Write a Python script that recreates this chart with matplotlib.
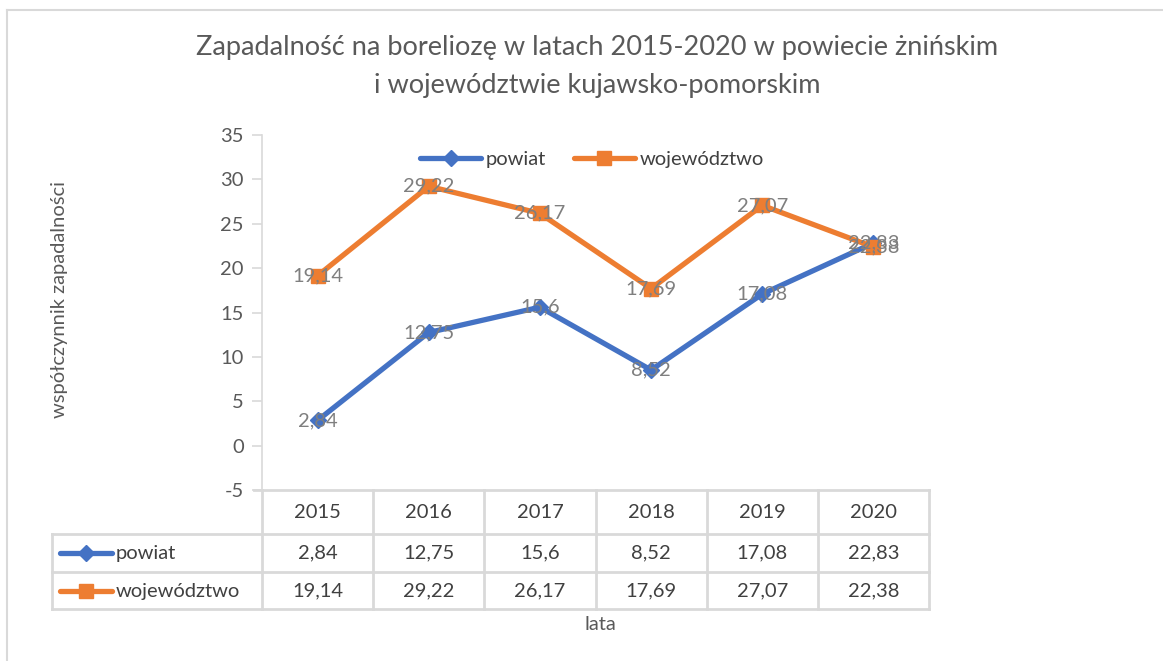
import matplotlib
matplotlib.use("Agg")
import matplotlib.pyplot as plt
import matplotlib.transforms as mtransforms
from matplotlib.lines import Line2D

plt.rcParams['font.family'] = ['Lato', 'DejaVu Sans']
plt.rcParams['axes.unicode_minus'] = False

years = ['2015', '2016', '2017', '2018', '2019', '2020']
powiat = [2.84, 12.75, 15.6, 8.52, 17.08, 22.83]
wojewodztwo = [19.14, 29.22, 26.17, 17.69, 27.07, 22.38]
series_names = ['powiat', 'województwo']

BLUE = '#4472C4'
ORANGE = '#ED7D31'
GRID = '#D9D9D9'
TXT = '#595959'
CELL = '#404040'
FS = 14.5

W, H = 1163, 661
fig = plt.figure(figsize=(W / 100, H / 100), dpi=100)

# plot area in pixels: x 262..929, y 135..490
ax = fig.add_axes([262 / W, 1 - 490 / H, (929 - 262) / W, (490 - 135) / H])
x = list(range(len(years)))

ax.plot(x, powiat, color=BLUE, lw=3.8, marker='D', ms=8.5, label=series_names[0],
        solid_capstyle='round', zorder=3)
ax.plot(x, wojewodztwo, color=ORANGE, lw=3.8, marker='s', ms=10.5, label=series_names[1],
        solid_capstyle='round', zorder=3)

for xi, v in zip(x, powiat):
    ax.text(xi, v, str(v).replace('.', ','), ha='center', va='center',
            fontsize=FS, color='#7F7F7F', zorder=4)
for xi, v in zip(x, wojewodztwo):
    ax.text(xi, v, str(v).replace('.', ','), ha='center', va='center',
            fontsize=FS, color='#7F7F7F', zorder=4)

ax.set_xlim(-0.5, len(years) - 0.5)
ax.set_ylim(-5, 35)
ax.set_yticks(range(-5, 36, 5))
ax.set_xticks([])
for s in ['top', 'right', 'bottom']:
    ax.spines[s].set_visible(False)
ax.spines['left'].set_color(GRID)
ax.spines['left'].set_linewidth(1.2)
ax.tick_params(axis='y', colors=GRID, labelcolor=TXT, labelsize=FS, length=7,
               width=1.2, pad=6)

leg = ax.legend(loc='upper center', bbox_to_anchor=(0.495, 1.005), ncol=2, frameon=False,
                fontsize=FS, handlelength=3.0, columnspacing=1.4, handletextpad=0.25,
                labelcolor=CELL)

# data table under the plot
trans = mtransforms.blended_transform_factory(ax.transData, ax.transAxes)
ph = 490 - 135
def yf(py):
    return -(py - 490) / ph

col_w = 667 / 6
x_left = (52 - 262) / col_w - 0.5
row_lines = [yf(534), yf(572), yf(609)]
row_mid = [yf(512), yf(553), yf(591)]

lk = dict(color=GRID, lw=2, transform=trans, clip_on=False)
ax.add_line(Line2D([-0.5 - 0.07, len(years) - 0.5], [0, 0], **lk))
for yl in row_lines:
    ax.add_line(Line2D([x_left, len(years) - 0.5], [yl, yl], **lk))
for k in range(len(years) + 1):
    ax.add_line(Line2D([k - 0.5, k - 0.5], [0, row_lines[-1]], **lk))
ax.add_line(Line2D([x_left, x_left], [row_lines[0], row_lines[-1]], **lk))

for xi, yr in zip(x, years):
    ax.text(xi, row_mid[0], yr, transform=trans, ha='center', va='center',
            fontsize=FS, color=CELL)
for r, (vals, col, mk, ms) in enumerate([(powiat, BLUE, 'D', 8.5), (wojewodztwo, ORANGE, 's', 10.5)]):
    ym = row_mid[r + 1]
    for xi, v in zip(x, vals):
        ax.text(xi, ym, str(v).replace('.', ','), transform=trans, ha='center',
                va='center', fontsize=FS, color=CELL)
    k0 = (60 - 262) / col_w - 0.5
    k1 = (112 - 262) / col_w - 0.5
    ax.add_line(Line2D([k0, k1], [ym, ym], color=col, lw=3.8, transform=trans,
                       clip_on=False, solid_capstyle='round'))
    ax.add_line(Line2D([(k0 + k1) / 2], [ym], color=col, marker=mk, ms=ms,
                       transform=trans, clip_on=False))
    ax.text((116 - 262) / col_w - 0.5, ym, series_names[r], transform=trans,
            ha='left', va='center', fontsize=FS, color=CELL)

fig.text(597 / W, 1 - 48 / H, 'Zapadalność na boreliozę w latach 2015-2020 w powiecie żnińskim',
         ha='center', va='center', fontsize=19.5, color=TXT)
fig.text(597 / W, 1 - 86 / H, 'i województwie kujawsko-pomorskim',
         ha='center', va='center', fontsize=19.5, color=TXT)
fig.text(60 / W, 1 - 300 / H, 'współczynnik zapadalności', rotation=90,
         ha='center', va='center', fontsize=FS, color=TXT)
fig.text(600 / W, 1 - 625 / H, 'lata', ha='center', va='center', fontsize=FS, color=TXT)

# chart border
fig.add_artist(Line2D([7 / W, 1], [1 - 10 / H, 1 - 10 / H], color=GRID, lw=1.5,
                      transform=fig.transFigure))
fig.add_artist(Line2D([7 / W, 7 / W], [0, 1 - 10 / H], color=GRID, lw=1.5,
                      transform=fig.transFigure))

fig.savefig('out.png', dpi=100)
